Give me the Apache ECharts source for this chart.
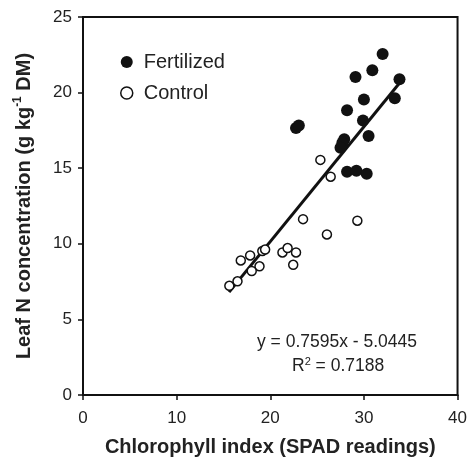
<!DOCTYPE html>
<html>
<head>
<meta charset="utf-8">
<script src="https://cdn.jsdelivr.net/npm/echarts@6/dist/echarts.min.js"></script>
<style>html,body{margin:0;padding:0;background:#fff}#c{width:470px;height:462px}</style>
</head>
<body>
<div id="c"></div>
<script>
// Fertilized (filled circles)
var fertX = [32.0, 30.9, 29.1, 33.8, 30.0, 33.3, 28.2, 29.9, 22.75, 23.05, 30.5, 27.9, 27.7, 27.5, 28.2, 29.2, 30.3];
var fertY = [22.55, 21.48, 21.03, 20.88, 19.54, 19.62, 18.84, 18.16, 17.66, 17.83, 17.13, 16.91, 16.69, 16.35, 14.76, 14.83, 14.63];
// Control (open circles)
var ctrlX = [25.35, 26.45, 23.5, 26.05, 29.3, 21.3, 21.85, 22.75, 22.45, 19.15, 19.45, 17.85, 16.85, 18.85, 18.02, 16.5, 15.63];
var ctrlY = [15.55, 14.44, 11.63, 10.62, 11.53, 9.43, 9.72, 9.43, 8.61, 9.52, 9.62, 9.23, 8.90, 8.51, 8.20, 7.52, 7.22];
// Regression line y = 0.7595x - 5.0445
var slope = 0.7595, intercept = -5.0445;
var fitX = [15.6, 33.85];
var xTicks = [0, 10, 20, 30, 40];
var yTicks = [0, 5, 10, 15, 20, 25];

function pairs(xs, ys){ return xs.map(function(x,i){ return [x, ys[i]]; }); }
var fitLine = fitX.map(function(x){ return [x, slope*x + intercept]; });

var chart = echarts.init(document.getElementById('c'), null, {renderer:'canvas'});
var font = 'Liberation Sans, Arial, sans-serif';
chart.setOption({
  animation: false,
  backgroundColor: '#fff',
  grid: { left: 83, right: 9, top: 17, bottom: 65, show: true, borderColor: '#111', borderWidth: 2 },
  legend: {
    orient: 'vertical', left: 115, top: 47, itemWidth: 24, itemHeight: 12, itemGap: 11,
    textStyle: { fontFamily: font, fontSize: 20, color: '#222' },
    data: [
      { name: 'Fertilized', icon: 'circle' },
      { name: 'Control', icon: 'circle', itemStyle: { color: '#fff', borderColor: '#111', borderWidth: 1.5 } }
    ]
  },
  xAxis: {
    type: 'value', min: xTicks[0], max: xTicks[xTicks.length-1], interval: 10,
    name: 'Chlorophyll index (SPAD readings)', nameLocation: 'middle', nameGap: 42,
    nameTextStyle: { fontFamily: font, fontSize: 20, fontWeight: 'bold', color: '#222' },
    axisLine: { lineStyle: { color: '#111', width: 2 } },
    axisTick: { show: true, inside: false, length: 5, lineStyle: { color: '#111', width: 1.5 } },
    axisLabel: { fontFamily: font, fontSize: 17, color: '#222', margin: 15 },
    splitLine: { show: false }
  },
  yAxis: {
    type: 'value', min: yTicks[0], max: yTicks[yTicks.length-1], interval: 5,
    name: '{a|Leaf N concentration (g kg}{s|-1}{a| DM)}', nameLocation: 'middle', nameGap: 47,
    nameTextStyle: { fontFamily: font, fontSize: 20, fontWeight: 'bold', color: '#222',
      rich: { a: { fontFamily: font, fontSize: 20, fontWeight: 'bold', color: '#222' },
              s: { fontFamily: font, fontSize: 12, fontWeight: 'bold', color: '#222', padding: [0,0,12,0] } } },
    axisLine: { lineStyle: { color: '#111', width: 2 } },
    axisTick: { show: true, inside: false, length: 5, lineStyle: { color: '#111', width: 1.5 } },
    axisLabel: { fontFamily: font, fontSize: 17, color: '#222', margin: 11 },
    splitLine: { show: false }
  },
  series: [
    { name: 'Fertilized', type: 'scatter', symbol: 'circle', symbolSize: 12,
      itemStyle: { color: '#111', opacity: 1 }, data: pairs(fertX, fertY), z: 3 },
    { name: 'Control', type: 'scatter', symbol: 'circle', symbolSize: 9,
      itemStyle: { color: '#fff', borderColor: '#111', borderWidth: 1.5, opacity: 1 }, data: pairs(ctrlX, ctrlY), z: 3 },
    { name: 'fit', type: 'line', data: fitLine, symbol: 'none', lineStyle: { color: '#111', width: 3 }, z: 2,
      silent: true }
  ],
  graphic: [
    { type: 'text', left: 257, top: 333, style: { text: 'y = 0.7595x - 5.0445', fontFamily: font, fontSize: 17.5, fill: '#222' } },
    { type: 'text', left: 292, top: 356, style: { text: '{a|R}{s|2}{a| = 0.7188}', fontFamily: font, fontSize: 17.5, fill: '#222',
      rich: { a: { fontFamily: font, fontSize: 17.5, fill: '#222', color: '#222' },
              s: { fontFamily: font, fontSize: 11, fill: '#222', color: '#222', padding: [0,0,10,0] } } } }
  ]
});
</script>
</body>
</html>
